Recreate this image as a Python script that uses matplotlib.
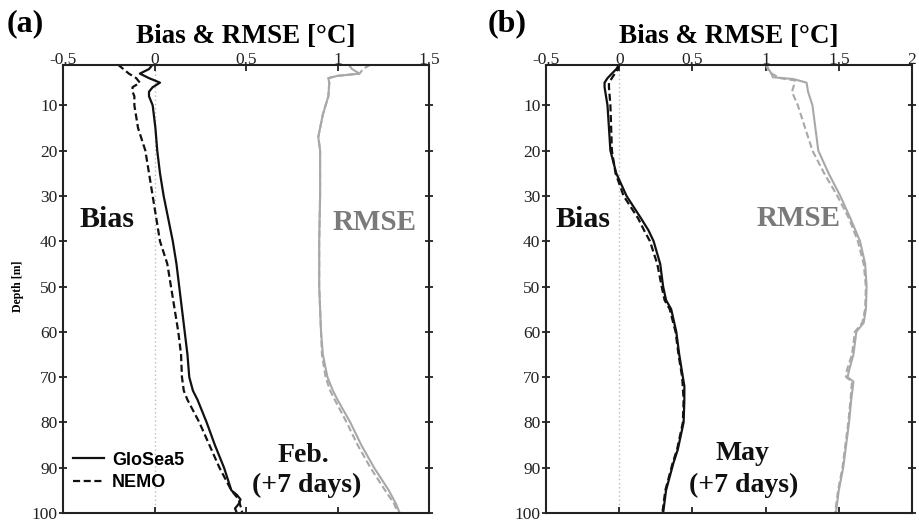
import matplotlib
matplotlib.use("Agg")
import matplotlib.pyplot as plt
import numpy as np

# ---------------- data ----------------
# Panel (a) Feb. (+7 days)
a_bias_g_depth = [1, 2, 3, 4, 5, 6, 7, 8, 10, 15, 20, 25, 30, 35, 40, 45, 50, 55, 60, 65, 70, 73, 75, 80, 85, 90, 95, 96, 97, 98, 99, 100]
a_bias_g = [-0.01, -0.03, -0.08, -0.03, 0.03, -0.01, -0.03, -0.03, -0.01, 0.005, 0.015, 0.03, 0.05, 0.075, 0.10, 0.12, 0.135, 0.15, 0.165, 0.18, 0.19, 0.21, 0.235, 0.285, 0.33, 0.38, 0.42, 0.45, 0.47, 0.46, 0.44, 0.45]
a_bias_n_depth = [1, 2, 3, 4, 5, 6, 7, 8, 10, 15, 20, 25, 30, 35, 40, 45, 50, 55, 60, 65, 70, 73, 75, 80, 85, 90, 95, 97, 100]
a_bias_n = [-0.2, -0.17, -0.14, -0.10, -0.08, -0.12, -0.12, -0.11, -0.11, -0.09, -0.05, -0.03, -0.01, 0.01, 0.03, 0.07, 0.09, 0.11, 0.13, 0.145, 0.15, 0.16, 0.18, 0.245, 0.30, 0.355, 0.42, 0.46, 0.48]
a_rmse_g_depth = [1, 2, 3, 3.5, 4, 5, 8, 10, 12, 15, 17, 20, 30, 40, 50, 55, 60, 65, 70, 73, 75, 80, 85, 90, 95, 98, 100]
a_rmse_g = [1.06, 1.08, 1.12, 1.0, 0.95, 0.955, 0.95, 0.935, 0.92, 0.905, 0.895, 0.905, 0.905, 0.90, 0.90, 0.905, 0.91, 0.92, 0.945, 0.975, 1.0, 1.07, 1.13, 1.20, 1.28, 1.32, 1.34]
a_rmse_n_depth = [1, 2, 3, 3.5, 4, 5, 8, 10, 12, 15, 17, 20, 30, 40, 50, 55, 60, 65, 70, 73, 75, 80, 85, 90, 95, 98, 100]
a_rmse_n = [1.18, 1.14, 1.12, 1.0, 0.95, 0.955, 0.95, 0.935, 0.92, 0.905, 0.895, 0.905, 0.905, 0.90, 0.90, 0.905, 0.91, 0.915, 0.935, 0.96, 0.985, 1.05, 1.11, 1.18, 1.26, 1.31, 1.33]

# Panel (b) May (+7 days)
b_bias_g_depth = [1, 2, 3, 4, 5, 6, 8, 10, 15, 20, 25, 30, 35, 37.6, 40, 45, 50, 53, 55, 60, 65, 70, 72, 75, 80, 83, 86, 89, 92, 95, 100]
b_bias_g = [0.0, -0.02, -0.05, -0.08, -0.10, -0.10, -0.09, -0.08, -0.07, -0.06, -0.02, 0.05, 0.15, 0.20, 0.235, 0.28, 0.30, 0.32, 0.355, 0.39, 0.41, 0.435, 0.445, 0.445, 0.44, 0.42, 0.40, 0.37, 0.345, 0.32, 0.30]
b_bias_n_depth = [1, 2, 3, 4, 5, 6, 8, 10, 15, 20, 25, 30, 35, 37.6, 40, 45, 50, 53, 55, 60, 65, 70, 75, 80, 83, 86, 89, 92, 95, 100]
b_bias_n = [0.0, -0.01, -0.03, -0.05, -0.07, -0.07, -0.065, -0.06, -0.055, -0.05, -0.025, 0.03, 0.13, 0.17, 0.21, 0.26, 0.29, 0.31, 0.345, 0.385, 0.405, 0.43, 0.44, 0.435, 0.415, 0.395, 0.365, 0.34, 0.315, 0.295]
b_rmse_g_depth = [1, 2, 3, 3.8, 4.2, 5, 7, 10, 15, 20, 25, 30, 35, 40, 45, 50, 55, 58, 60, 65, 68.5, 70, 71, 75, 80, 85, 90, 95, 100]
b_rmse_g = [1.005, 1.02, 1.04, 1.05, 1.19, 1.28, 1.29, 1.32, 1.34, 1.36, 1.43, 1.51, 1.58, 1.645, 1.68, 1.69, 1.685, 1.67, 1.62, 1.60, 1.57, 1.56, 1.60, 1.585, 1.57, 1.55, 1.53, 1.50, 1.48]
b_rmse_n_depth = [1, 2, 3, 4, 4.5, 6, 7, 10, 15, 20, 25, 30, 35, 40, 45, 50, 55, 58, 60, 65, 68.5, 70, 71, 75, 80, 85, 90, 95, 100]
b_rmse_n = [1.0, 1.015, 1.04, 1.1, 1.2, 1.19, 1.18, 1.22, 1.27, 1.32, 1.40, 1.49, 1.57, 1.63, 1.67, 1.685, 1.68, 1.66, 1.61, 1.59, 1.555, 1.55, 1.59, 1.58, 1.565, 1.545, 1.525, 1.495, 1.475]

a_xticks = [-0.5, 0, 0.5, 1, 1.5]
a_xticklabels = ["-0.5", "0", "0.5", "1", "1.5"]
b_xticks = [-0.5, 0, 0.5, 1, 1.5, 2]
b_xticklabels = ["-0.5", "0", "0.5", "1", "1.5", "2"]
yticks = [10, 20, 30, 40, 50, 60, 70, 80, 90, 100]
legend_labels = ["GloSea5", "NEMO"]

# ---------------- style ----------------
W, H = 919, 523
SERIF = ["Liberation Serif", "DejaVu Serif"]
SANS = ["Liberation Sans", "DejaVu Sans"]
plt.rcParams['font.family'] = SERIF

fig = plt.figure(figsize=(W / 100, H / 100), dpi=100)

def fx(px):
    return px / W

def fy(py):
    return 1 - py / H

ax_a = fig.add_axes([fx(63), fy(513), fx(429) - fx(63), fy(65) - fy(513)])
ax_b = fig.add_axes([fx(546), fy(513), fx(912) - fx(546), fy(65) - fy(513)])

BLACK = "#111111"
GRAY = "#a8a8a8"
DASH = (0, (3.2, 1.6))

def style_axes(ax, xlim, xticks, xlabels):
    ax.set_xlim(*xlim)
    ax.set_ylim(100, 1.1)
    ax.axvline(0, color="#bbbbbb", lw=1.0, ls=(0, (1, 2)), zorder=0)
    ax.xaxis.set_ticks_position('both')
    ax.yaxis.set_ticks_position('both')
    ax.tick_params(axis='x', direction='in', length=4.5, width=1.3,
                   labelsize=12.5, pad=-2, colors="#222222",
                   labeltop=True, labelbottom=False)
    ax.tick_params(axis='y', direction='inout', length=6, width=1.3,
                   labelsize=12.5, pad=1, colors="#222222",
                   labelleft=True, labelright=False)
    ax.set_xticks(xticks)
    ax.set_xticklabels(xlabels)
    ax.set_yticks(yticks)
    ax.set_yticklabels([str(v) for v in yticks])
    for s in ax.spines.values():
        s.set_linewidth(1.5)
        s.set_color("#222222")

style_axes(ax_a, (-0.5, 1.5), a_xticks, a_xticklabels)
style_axes(ax_b, (-0.5, 2.0), b_xticks, b_xticklabels)

# panel (a)
l1, = ax_a.plot(a_bias_g, a_bias_g_depth, color=BLACK, lw=1.6)
l2, = ax_a.plot(a_bias_n, a_bias_n_depth, color=BLACK, lw=1.6, ls=DASH)
ax_a.plot(a_rmse_g, a_rmse_g_depth, color=GRAY, lw=1.5)
ax_a.plot(a_rmse_n, a_rmse_n_depth, color=GRAY, lw=1.5, ls=DASH)

# panel (b)
ax_b.plot(b_bias_g, b_bias_g_depth, color=BLACK, lw=1.6)
ax_b.plot(b_bias_n, b_bias_n_depth, color=BLACK, lw=1.6, ls=DASH)
ax_b.plot(b_rmse_g, b_rmse_g_depth, color=GRAY, lw=1.5)
ax_b.plot(b_rmse_n, b_rmse_n_depth, color=GRAY, lw=1.5, ls=DASH)

leg = ax_a.legend([l1, l2], legend_labels, loc='lower left',
                  bbox_to_anchor=(fx(73), fy(491)), bbox_transform=fig.transFigure,
                  frameon=False, handlelength=1.7, handletextpad=0.45,
                  labelspacing=0.3, borderpad=0, borderaxespad=0,
                  prop={'family': SANS, 'size': 13, 'weight': 'bold'})

# texts
fig.text(fx(7), fy(31), "(a)", fontsize=23, fontweight='bold', va='baseline', ha='left')
fig.text(fx(488), fy(31), "(b)", fontsize=23, fontweight='bold', va='baseline', ha='left')
fig.text(fx(246), fy(43), "Bias & RMSE [°C]", fontsize=19.5, fontweight='bold', va='baseline', ha='center')
fig.text(fx(729), fy(43), "Bias & RMSE [°C]", fontsize=19.5, fontweight='bold', va='baseline', ha='center')
fig.text(fx(18), fy(286), "Depth [m]", fontsize=8.5, fontweight='bold', rotation=90, va='center', ha='center')

fig.text(fx(80), fy(227), "Bias", fontsize=21.5, fontweight='bold', va='baseline', ha='left', color=BLACK)
fig.text(fx(333), fy(230), "RMSE", fontsize=21, fontweight='bold', va='baseline', ha='left', color="#7a7a7a")
fig.text(fx(303), fy(462), "Feb.", fontsize=20, fontweight='bold', va='baseline', ha='center', color=BLACK)
fig.text(fx(307), fy(492), "(+7 days)", fontsize=20, fontweight='bold', va='baseline', ha='center', color=BLACK)

fig.text(fx(555), fy(227), "Bias", fontsize=21.5, fontweight='bold', va='baseline', ha='left', color=BLACK)
fig.text(fx(757), fy(226), "RMSE", fontsize=21, fontweight='bold', va='baseline', ha='left', color="#7a7a7a")
fig.text(fx(742), fy(460), "May", fontsize=20, fontweight='bold', va='baseline', ha='center', color=BLACK)
fig.text(fx(744), fy(492), "(+7 days)", fontsize=20, fontweight='bold', va='baseline', ha='center', color=BLACK)

fig.savefig("out.png", dpi=100)
